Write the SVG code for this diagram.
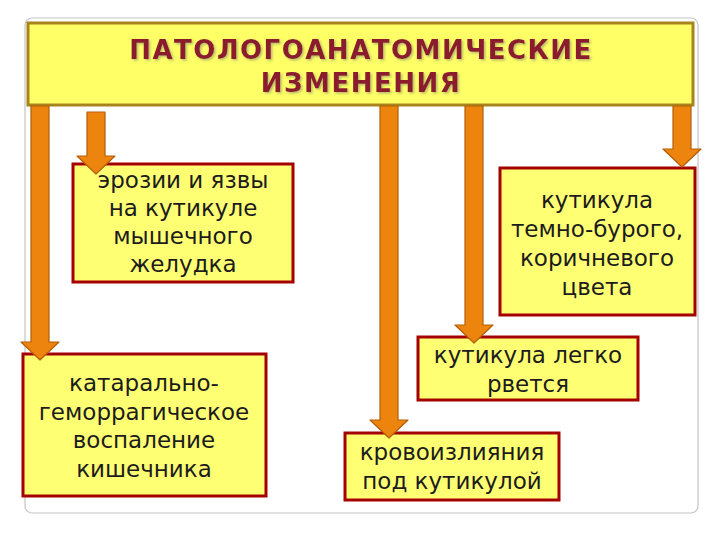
<svg xmlns="http://www.w3.org/2000/svg" width="720" height="540" viewBox="0 0 720 540">
<defs>
<filter id="tshadow" x="-5%" y="-20%" width="110%" height="150%">
<feDropShadow dx="1.5" dy="1.5" stdDeviation="0.8" flood-color="#8a8a6a" flood-opacity="0.6"/>
</filter>
<style>
.frame{fill:#ffffff;stroke:#c4c4c4;stroke-width:1.2}
.title{fill:#FFFF66;stroke:#A8841C;stroke-width:3}
.ttl{font-family:"DejaVu Sans",Verdana,sans-serif;font-weight:bold;font-size:26px;fill:#8B1E2E;text-anchor:middle;letter-spacing:1.5px}
.box{fill:#FFFF73;stroke:#A50000;stroke-width:3}
.txt{font-family:"DejaVu Sans",Verdana,sans-serif;font-size:23px;fill:#1c1c1c;text-anchor:middle}
.arr{fill:#EC840E;stroke:#B35E08;stroke-width:1.2;stroke-linejoin:round}
</style>
</defs>
<rect x="0" y="0" width="720" height="540" fill="#ffffff"/>
<rect class="frame" x="25" y="18" width="673" height="495" rx="7"/>
<g id="title">
<rect class="title" x="28" y="23" width="665" height="82"/>
<g filter="url(#tshadow)">
<text class="ttl" x="361" y="59">ПАТОЛОГОАНАТОМИЧЕСКИЕ</text>
<text class="ttl" x="361" y="92">ИЗМЕНЕНИЯ</text>
</g>
</g>
<g id="n-erosion">
<rect class="box" x="73" y="164" width="220" height="118"/>
<text class="txt" x="183" y="188">эрозии и язвы</text>
<text class="txt" x="183" y="216">на кутикуле</text>
<text class="txt" x="183" y="244">мышечного</text>
<text class="txt" x="183" y="272">желудка</text>
</g>
<g id="n-cuticle-color">
<rect class="box" x="500" y="168" width="195" height="147"/>
<text class="txt" x="597" y="208">кутикула</text>
<text class="txt" x="597" y="237">темно-бурого,</text>
<text class="txt" x="597" y="266">коричневого</text>
<text class="txt" x="597" y="295">цвета</text>
</g>
<g id="n-catarrhal">
<rect class="box" x="23" y="354" width="243" height="142"/>
<text class="txt" x="144" y="391">катарально-</text>
<text class="txt" x="144" y="420">геморрагическое</text>
<text class="txt" x="144" y="448">воспаление</text>
<text class="txt" x="144" y="477">кишечника</text>
</g>
<g id="n-tears">
<rect class="box" x="418" y="337" width="220" height="63"/>
<text class="txt" x="528" y="363">кутикула легко</text>
<text class="txt" x="528" y="392">рвется</text>
</g>
<g id="n-hemorrhage">
<rect class="box" x="345" y="433" width="214" height="67"/>
<text class="txt" x="452" y="460">кровоизлияния</text>
<text class="txt" x="452" y="489">под кутикулой</text>
</g>
<g id="connectors">
<path class="arr" d="M31,106 H49 V342 H59 L40,360 L21,342 H31 Z"/>
<path class="arr" d="M87,112 H105 V156 H115 L96,174 L77,156 H87 Z"/>
<path class="arr" d="M380,106 H398 V420 H408 L389,438 L370,420 H380 Z"/>
<path class="arr" d="M465,106 H483 V325 H493 L474,343 L455,325 H465 Z"/>
<path class="arr" d="M673,106 H691 V149 H701 L682,167 L663,149 H673 Z"/>
</g>
</svg>
